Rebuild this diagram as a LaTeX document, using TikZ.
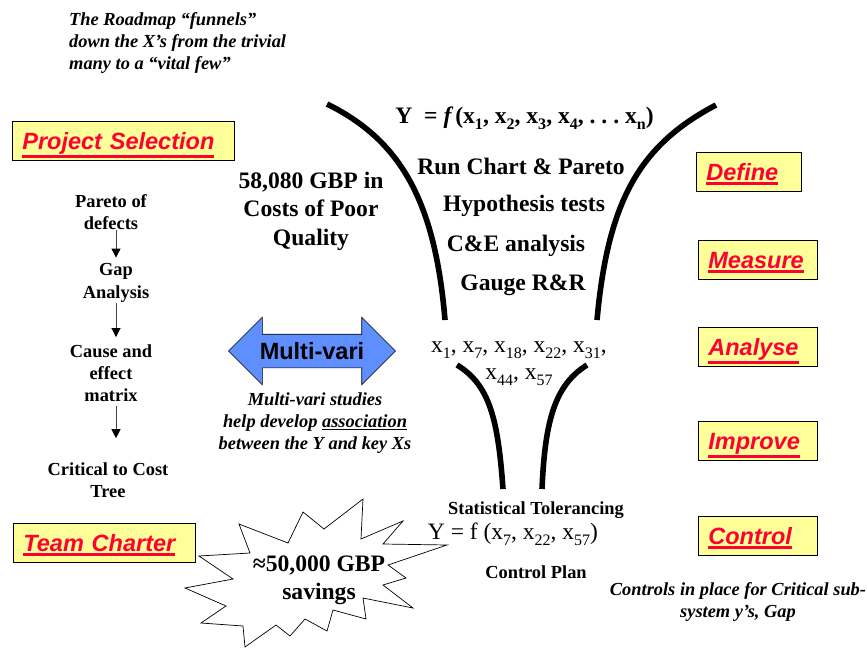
\documentclass[tikz,border=0pt]{standalone}
\usepackage{fontspec}
\setmainfont{Liberation Serif}
\newfontfamily\arialfont{Liberation Sans}
\usetikzlibrary{arrows.meta,shapes.arrows}
\definecolor{boxyellow}{HTML}{FFFF99}
\definecolor{phasered}{HTML}{FF0033}
\definecolor{arrowblue}{HTML}{5F8FFF}
\newcommand{\heavyul}[1]{\vtop{\hbox{#1}\kern1pt\hrule height 3pt}}
\newcommand{\thinul}[1]{\vtop{\hbox{#1}\kern1pt\hrule height 1.2pt}}
\newcommand{\xs}[1]{x\raisebox{-0.27em}{\edef\subsize{\the\dimexpr0.68em\relax}\fontsize{\subsize}{\subsize}\selectfont #1}}
\tikzset{
	phasebox/.style={draw=black, line width=0.8pt, fill=boxyellow, text=phasered, anchor=north west,
		font=\arialfont\bfseries\itshape\fontsize{23.5}{28}\selectfont,
		inner xsep=10pt, inner ysep=0pt, minimum height=39pt, text height=23pt, text depth=6pt,
		align=left, text width=#1},
	stepnote/.style={inner sep=0pt, align=center, font=\bfseries\fontsize{18.4}{22.3}\selectfont},
	bignote/.style={inner sep=0pt, align=center, font=\bfseries\fontsize{23.6}{28.5}\selectfont},
	plainnote/.style={inner sep=0pt, align=center, font=\fontsize{23.5}{27}\selectfont},
	italicnote/.style={inner sep=0pt, align=center, font=\bfseries\itshape\fontsize{18.4}{22.3}\selectfont},
	stepline/.style={draw=black!75, line width=1pt, -{Triangle[length=9pt,width=9pt,color=black]}},
	funnel/.style={line width=5.6pt}
}
\begin{document}
\begin{tikzpicture}[x=1pt, y=-1pt]
	\useasboundingbox (0,0) rectangle (867,648);
	% funnels
	\draw[funnel] (327,104) .. controls (400,140) and (435,200) .. (445,320);
	\draw[funnel] (716,105) .. controls (640,145) and (608,200) .. (597,320);
	\draw[funnel] (457,365) .. controls (490,385) and (498,420) .. (503,489);
	\draw[funnel] (587,365) .. controls (555,385) and (545,420) .. (542,489);
	% starburst
	\draw[fill=white, line width=0.7pt] (199,556) -- (250,553) -- (239,524) -- (288,543) -- (303,512) -- (324,529)
		-- (363,499) -- (361,539) -- (403,521) -- (383,544) -- (447,545) -- (388,565) -- (406,578)
		-- (383,585) -- (413,608) -- (363,598) -- (366,619) -- (333,610) -- (327,631) -- (305,619)
		-- (290,636) -- (276,625) -- (245,647) -- (243,626) -- (201,623) -- (226,606) -- (185,588)
		-- (233,579) -- cycle;
	\node[bignote] (savings) at (319,580) {≈50,000 GBP\\savings};
	% phase boxes
	\node[phasebox=202pt] (selection) at (12,121) {\heavyul{Project Selection}};
	\node[phasebox=162pt] (charter) at (13,523) {\heavyul{Team Charter}};
	\node[phasebox=85pt] (define) at (696,152) {\heavyul{Define}};
	\node[phasebox=99pt] (measure) at (698,240) {\heavyul{Measure}};
	\node[phasebox=99pt] (analyse) at (698,327) {\heavyul{Analyse}};
	\node[phasebox=99pt] (improve) at (698,421) {\heavyul{Improve}};
	\node[phasebox=99pt] (control) at (698,516) {\heavyul{Control}};
	% left column
	\node[stepnote] (pareto) at (111,212) {Pareto of\\defects};
	\node[stepnote] (gap) at (116,283) {Gap\\Analysis};
	\node[stepnote] (cause) at (111,373) {Cause and\\effect\\matrix};
	\node[stepnote] (critical) at (108,480) {Critical to Cost\\Tree};
	\draw[stepline, shorten >=6pt] (pareto.south -| gap.north) -- (gap.north);
	\draw[stepline, shorten <=1pt, shorten >=7pt] (gap.south) -- (gap.south |- cause.north);
	\draw[stepline, shorten <=4pt, shorten >=24pt] (cause.south -| gap.north) -- (critical.north -| gap.north);
	% middle
	\node[italicnote, anchor=west, align=left] (roadmap) at (69,43) {The Roadmap “funnels”\\down the X’s from the trivial\\many to a “vital few”};
	\node[bignote] (costs) at (311,211) {58,080 GBP in\\Costs of Poor\\Quality};
	\node[draw=black, line width=0.6pt, fill=arrowblue, double arrow, double arrow tip angle=90,
		double arrow head extend=17pt, minimum width=67pt, minimum height=167pt, inner xsep=0pt, inner ysep=8pt,
		text height=17pt, text depth=0pt,
		font=\arialfont\bfseries\fontsize{23.5}{28}\selectfont] (multivari) at (312,351) {Multi-vari};
	\node[italicnote] (studies) at (315,423) {Multi-vari studies\\help develop \thinul{association}\\between the Y and key Xs};
	% inside the funnel
	\node[bignote] (ymodel) at (524.5,118) {Y\ \ = \textit{f\,}(\xs{1}, \xs{2}, \xs{3}, \xs{4},\ .\ .\ .\ \xs{n})};
	\node[bignote] (runchart) at (521,166) {Run Chart \& Pareto};
	\node[bignote] (hypothesis) at (524,206) {Hypothesis tests};
	\node[bignote] (cande) at (516,246) {C\&E analysis};
	\node[bignote] (gauge) at (523,285) {Gauge R\&R};
	\node[plainnote] (vital) at (519,364) {\xs{1}, \xs{7}, \xs{18}, \xs{22}, \xs{31},\\\xs{44}, \xs{57}};
	\node[stepnote] (tolerancing) at (536,510) {Statistical Tolerancing};
	\node[plainnote] (yfinal) at (513,534) {Y = f (\xs{7}, \xs{22}, \xs{57})};
	\node[stepnote] (plan) at (536,572) {Control Plan};
	\node[italicnote] (controls) at (738,602) {Controls in place for Critical sub-\\system y’s, Gap};
\end{tikzpicture}
\end{document}
